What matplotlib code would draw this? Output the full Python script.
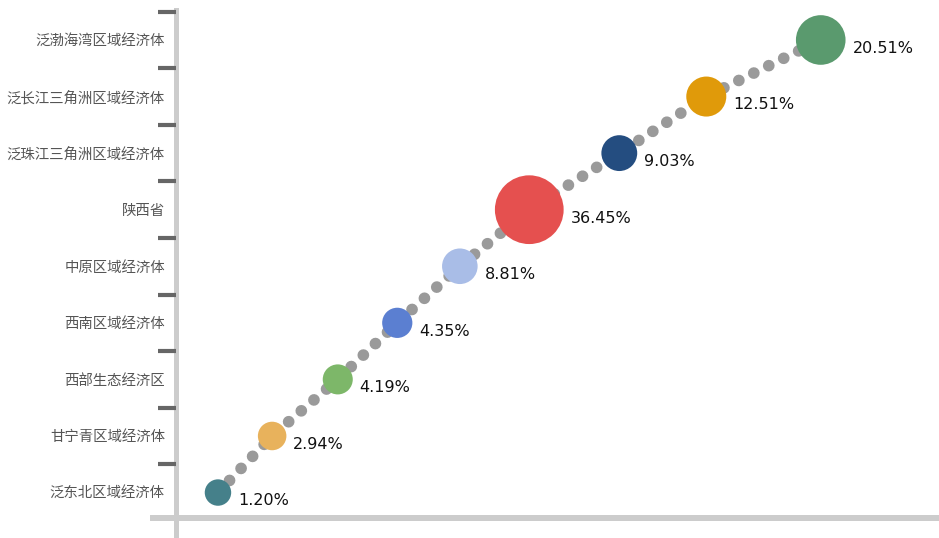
import numpy as np
import matplotlib
matplotlib.use("Agg")
import matplotlib.pyplot as plt

plt.rcParams['font.family'] = ['Noto Sans CJK SC', 'DejaVu Sans']

# data
regions = ['泛东北区域经济体', '甘宁青区域经济体', '西部生态经济区', '西南区域经济体',
           '中原区域经济体', '陕西省', '泛珠江三角洲区域经济体', '泛长江三角洲区域经济体',
           '泛渤海湾区域经济体']
shares = [1.20, 2.94, 4.19, 4.35, 8.81, 36.45, 9.03, 12.51, 20.51]
xvals = [5.5, 12.6, 21.2, 29.0, 37.2, 46.3, 58.1, 69.5, 84.5]
colors = ['#45808A', '#E8B25C', '#7DB769', '#5B7FD1', '#A9BDE7',
          '#E5504F', '#244D80', '#E09A0A', '#5A9A6E']

fig = plt.figure(figsize=(9.39, 5.38), dpi=100)
ax = fig.add_axes([176/939, 20/538, 763/939, 508/538])
ypos = np.arange(len(regions))

# dotted connector
ax.plot(xvals, ypos, color='#9a9a9a', lw=8.4, linestyle=(0, (0.01, 1.42)),
        dash_capstyle='round', zorder=1)

# bubbles: diameter in px grows with share
diam = 25 + 1.2*np.array(shares)
sizes = (diam*72/100)**2
ax.scatter(xvals, ypos, s=sizes, c=colors, zorder=2, linewidths=0)

for x, y, v, d in zip(xvals, ypos, shares, diam):
    ax.annotate(f'{v:.2f}%', (x, y), xytext=(d/2*0.72 + 5, -6), textcoords='offset points',
                ha='left', va='center', fontsize=11.5, family='DejaVu Sans', color='#111111')

ax.set_xlim(0, 100)
ax.set_ylim(-0.45, 8.53)
for s in ax.spines.values():
    s.set_visible(False)
ax.set_xticks([])
ax.set_yticks(ypos)
ax.set_yticklabels(regions, fontsize=10.4, color='#555555')
ax.tick_params(axis='y', which='major', length=0, pad=8)
ax.set_yticks(ypos + 0.5, minor=True)
ax.tick_params(axis='y', which='minor', length=13, width=3, color='#666666', direction='out', pad=0)

# axis lines
ax.plot([0, 0], [-20/508, 1.0], transform=ax.transAxes, color='#cccccc',
        lw=3.6, clip_on=False, zorder=0)
ax.plot([-23/763, 1], [0, 0], transform=ax.transAxes, color='#cccccc',
        lw=4.3, clip_on=False, zorder=0)

fig.savefig('out.png', dpi=100)
